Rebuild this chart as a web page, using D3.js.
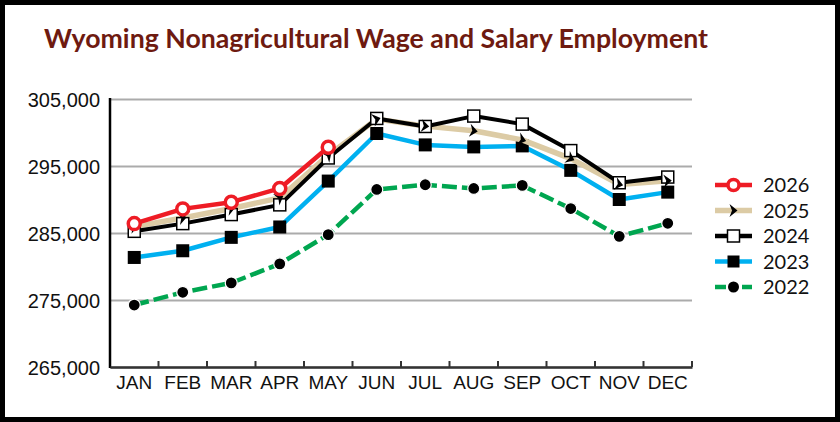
<!DOCTYPE html>
<html>
<head>
<meta charset="utf-8">
<script src="https://cdn.jsdelivr.net/npm/d3@7"></script>
<style>
  body { margin: 0; background: #fff; }
  svg { display: block; font-family: Lato, "Open Sans", sans-serif; }
</style>
</head>
<body>
<script>
// Data
const months = ["JAN", "FEB", "MAR", "APR", "MAY", "JUN", "JUL", "AUG", "SEP", "OCT", "NOV", "DEC"];
const yTicks = [265000, 275000, 285000, 295000, 305000];
const emp2026 = [286400, 288600, 289600, 291650, 297800];
const emp2025 = [285950, 287250, 288650, 290250, 296600, 302000, 300950, 300250, 298900, 296100, 292250, 292800];
const emp2024 = [285250, 286400, 287750, 289200, 296200, 302100, 300900, 302450, 301250, 297300, 292500, 293350];
const emp2023 = [281350, 282350, 284350, 285900, 292750, 299850, 298150, 297850, 298000, 294350, 290000, 291100];
const emp2022 = [274250, 276150, 277550, 280400, 284750, 291500, 292200, 291650, 292100, 288650, 284500, 286450];

const W = 840, H = 422;
const margin = { top: 99, right: 148, bottom: 55, left: 110 };

const svg = d3.select("body").append("svg")
    .attr("width", W)
    .attr("height", H);

// outer frame
svg.append("rect")
    .attr("x", 2.5).attr("y", 2.5)
    .attr("width", W - 5).attr("height", H - 5)
    .attr("fill", "#fff")
    .attr("stroke", "#000")
    .attr("stroke-width", 5);

// title
svg.append("text")
    .attr("x", 44).attr("y", 48)
    .attr("textLength", 664)
    .attr("lengthAdjust", "spacingAndGlyphs")
    .style("font-size", "26px")
    .style("font-weight", "bold")
    .style("fill", "#6E1A10")
    .text("Wyoming Nonagricultural Wage and Salary Employment");

const x = d3.scaleBand()
    .domain(months)
    .range([margin.left, W - margin.right]);

const y = d3.scaleLinear()
    .domain([265000, 305000])
    .range([H - margin.bottom, margin.top]);

const cx = m => x(m) + x.bandwidth() / 2;

// y axis + gridlines
const yAxis = svg.append("g")
    .attr("transform", "translate(" + margin.left + ",0)")
    .call(d3.axisLeft(y)
        .tickValues(yTicks)
        .tickSize(-(W - margin.right - margin.left))
        .tickPadding(10)
        .tickFormat(d3.format(",")));
yAxis.select(".domain").remove();
yAxis.selectAll(".tick line")
    .attr("stroke", "#ababab")
    .attr("stroke-width", 2);
yAxis.selectAll(".tick text")
    .style("font-size", "20px")
    .style("fill", "#111")
    .attr("dy", "0.36em");

svg.append("line")
    .attr("x1", margin.left).attr("x2", margin.left)
    .attr("y1", y(305000) - 1).attr("y2", y(265000) + 1)
    .attr("stroke", "#000")
    .attr("stroke-width", 2.5);

// x axis
const xAxis = svg.append("g")
    .attr("transform", "translate(0," + y(265000) + ")")
    .call(d3.axisBottom(x).tickSize(0).tickPadding(9));
xAxis.select(".domain")
    .attr("stroke", "#333")
    .attr("stroke-width", 2.5);
xAxis.selectAll(".tick text")
    .style("font-size", "19px")
    .style("fill", "#111");

// tick marks between months, pointing up
svg.append("g").selectAll("line")
    .data(months)
    .enter()
    .append("line")
    .attr("x1", d => x(d) + x.bandwidth())
    .attr("x2", d => x(d) + x.bandwidth())
    .attr("y1", y(265000))
    .attr("y2", y(265000) - 6)
    .attr("stroke", "#333")
    .attr("stroke-width", 2);

const line = d3.line()
    .x((d, i) => cx(months[i]))
    .y(d => y(d));

function drawLine(vals, color, width, dash) {
    svg.append("path")
        .datum(vals)
        .attr("d", line)
        .attr("fill", "none")
        .attr("stroke", color)
        .attr("stroke-width", width)
        .attr("stroke-dasharray", dash || null)
        .attr("stroke-linejoin", "round");
}

// 2022 - green dashed, black dots
drawLine(emp2022, "#00A650", 4.5, "15,5");
svg.append("g").selectAll("circle")
    .data(emp2022).enter().append("circle")
    .attr("cx", (d, i) => cx(months[i]))
    .attr("cy", d => y(d))
    .attr("r", 6)
    .attr("fill", "#000")
    .attr("stroke", "#fff")
    .attr("stroke-width", 1.2);

// 2023 - blue, black squares
drawLine(emp2023, "#00B0F0", 4.5);
svg.append("g").selectAll("rect")
    .data(emp2023).enter().append("rect")
    .attr("x", (d, i) => cx(months[i]) - 6.5)
    .attr("y", d => y(d) - 6.5)
    .attr("width", 13).attr("height", 13)
    .attr("fill", "#000");

// 2025 line sits under 2024
drawLine(emp2025, "#DCCBA5", 5.5);

// 2024 - black, white squares
drawLine(emp2024, "#000", 4);
svg.append("g").selectAll("rect")
    .data(emp2024).enter().append("rect")
    .attr("x", (d, i) => cx(months[i]) - 6)
    .attr("y", d => y(d) - 6)
    .attr("width", 12).attr("height", 12)
    .attr("fill", "#fff")
    .attr("stroke", "#000")
    .attr("stroke-width", 1.5);

// 2025 chevrons, turned along the line
const chevron = "M-4,-6.5 L4,0 L-4,6.5 L-1.5,0 Z";
function angleAt(vals, i) {
    const p = j => [cx(months[j]), y(vals[j])];
    const a = p(Math.max(0, i - 1)), b = p(Math.min(vals.length - 1, i + 1));
    return Math.atan2(b[1] - a[1], b[0] - a[0]) * 180 / Math.PI;
}
svg.append("g").selectAll("path")
    .data(emp2025).enter().append("path")
    .attr("d", chevron)
    .attr("transform", (d, i) => "translate(" + cx(months[i]) + "," + y(d) + ") rotate(" + angleAt(emp2025, i) + ")")
    .attr("fill", "#000");

// 2026 - red, hollow circles
drawLine(emp2026, "#EE1C25", 4.5);
svg.append("g").selectAll("circle")
    .data(emp2026).enter().append("circle")
    .attr("cx", (d, i) => cx(months[i]))
    .attr("cy", d => y(d))
    .attr("r", 6)
    .attr("fill", "#fff")
    .attr("stroke", "#EE1C25")
    .attr("stroke-width", 3.5);

// legend
const legendItems = [
    { name: "2026", color: "#EE1C25", dash: null, mark: "ring" },
    { name: "2025", color: "#DCCBA5", dash: null, mark: "chevron" },
    { name: "2024", color: "#000", dash: null, mark: "hollowSquare" },
    { name: "2023", color: "#00B0F0", dash: null, mark: "square" },
    { name: "2022", color: "#00A650", dash: "10,5", mark: "dot" }
];

const legend = svg.append("g")
    .attr("transform", "translate(715,185)");

legendItems.forEach(function(d, i) {
    const g = legend.append("g").attr("transform", "translate(0," + (i * 25.5) + ")");
    g.append("line")
        .attr("x1", 0).attr("x2", 37)
        .attr("y1", 0).attr("y2", 0)
        .attr("stroke", d.color)
        .attr("stroke-width", d.mark === "chevron" ? 5.5 : 4.5)
        .attr("stroke-dasharray", d.dash ? "11,16" : null);
    if (d.mark === "ring") {
        g.append("circle").attr("cx", 18.5).attr("r", 5.5)
            .attr("fill", "#fff").attr("stroke", d.color).attr("stroke-width", 3.5);
    } else if (d.mark === "chevron") {
        g.append("path").attr("d", chevron)
            .attr("transform", "translate(18.5,0)").attr("fill", "#000");
    } else if (d.mark === "hollowSquare") {
        g.append("rect").attr("x", 12.5).attr("y", -6).attr("width", 12).attr("height", 12)
            .attr("fill", "#fff").attr("stroke", "#000").attr("stroke-width", 1.5);
    } else if (d.mark === "square") {
        g.append("rect").attr("x", 12.5).attr("y", -6).attr("width", 12).attr("height", 12)
            .attr("fill", "#000");
    } else {
        g.append("circle").attr("cx", 18.5).attr("r", 5.5).attr("fill", "#000");
    }
    g.append("text")
        .attr("x", 48).attr("y", 0)
        .attr("dy", "0.36em")
        .style("font-size", "20px")
        .style("fill", "#111")
        .text(d.name);
});
</script>
</body>
</html>
